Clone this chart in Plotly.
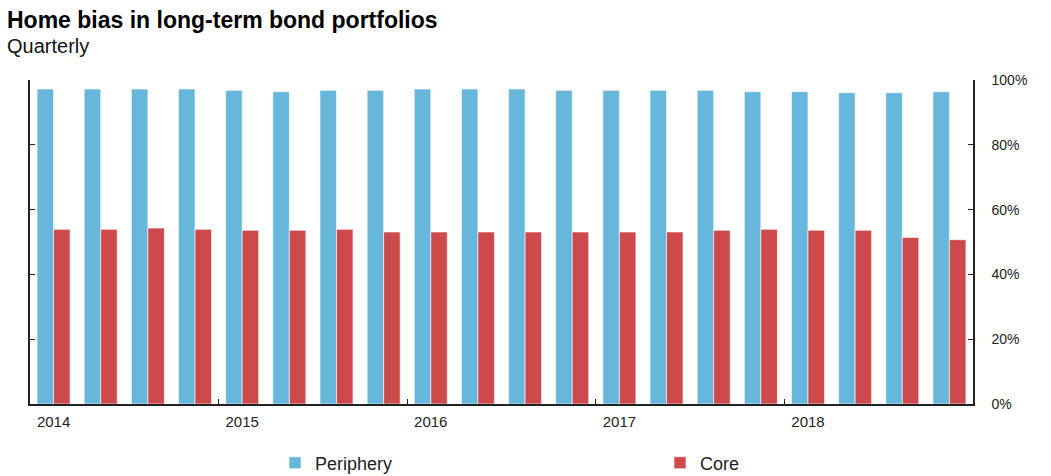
import plotly.graph_objects as go

quarters = ["2014Q1", "2014Q2", "2014Q3", "2014Q4",
            "2015Q1", "2015Q2", "2015Q3", "2015Q4",
            "2016Q1", "2016Q2", "2016Q3", "2016Q4",
            "2017Q1", "2017Q2", "2017Q3", "2017Q4",
            "2018Q1", "2018Q2", "2018Q3", "2018Q4"]
periphery = [97.2, 97.2, 97.2, 97.2, 96.8, 96.4, 96.8, 96.8, 97.2, 97.2,
             97.2, 96.8, 96.8, 96.8, 96.8, 96.4, 96.4, 96.1, 96.1, 96.4]
core = [53.9, 53.9, 54.3, 53.9, 53.6, 53.6, 53.9, 53.1, 53.1, 53.1,
        53.1, 53.1, 53.1, 53.1, 53.6, 53.9, 53.6, 53.6, 51.4, 50.7]
year_labels = ["2014", "2015", "2016", "2017", "2018"]
y_ticks = [0, 20, 40, 60, 80, 100]

x_idx = list(range(len(quarters)))
year_pos = [i for i, q in enumerate(quarters) if q.endswith("Q1")]
year_bounds = [i - 0.5 for i in year_pos[1:]]

BLUE = "#67B7DC"
RED = "#CC4A4C"
FONT = "Liberation Sans, Arial, sans-serif"
AX = "#222222"

W, H = 1051, 476
L, R, T, B = 30, 78, 80, 72
PW, PH = W - L - R, H - T - B


def px_x(p):
    return (p - L) / PW


def px_y(p):
    return (H - B - p) / PH


fig = go.Figure()
fig.add_trace(go.Bar(x=x_idx, y=periphery, name="Periphery", marker_color=BLUE,
                     marker_line=dict(color="rgba(255,255,255,0.6)", width=1),
                     legend="legend",
                     customdata=quarters, hovertemplate="%{customdata}: %{y}%<extra>Periphery</extra>"))
fig.add_trace(go.Bar(x=x_idx, y=core, name="Core", marker_color=RED,
                     marker_line=dict(color="rgba(255,255,255,0.6)", width=1),
                     legend="legend2",
                     customdata=quarters, hovertemplate="%{customdata}: %{y}%<extra>Core</extra>"))
fig.add_trace(go.Scatter(x=[None], y=[None], yaxis="y2", showlegend=False, hoverinfo="skip"))

leg_common = dict(orientation="h", yanchor="middle", y=px_y(463), xanchor="left",
                  font=dict(size=18, color="#222222", family=FONT),
                  bgcolor="rgba(0,0,0,0)")

fig.update_layout(
    width=W, height=H,
    margin=dict(l=L, r=R, t=T, b=B, autoexpand=False),
    paper_bgcolor="white", plot_bgcolor="white",
    barmode="group", bargap=0.3, bargroupgap=0,
    font=dict(family=FONT, color=AX),
    annotations=[
        dict(text="<b>Home bias in long-term bond portfolios</b>", xref="paper", yref="paper",
             x=px_x(5), y=px_y(20), xanchor="left", yanchor="middle", showarrow=False,
             font=dict(size=23, color="#000000", family=FONT)),
        dict(text="Quarterly", xref="paper", yref="paper",
             x=px_x(5), y=px_y(46), xanchor="left", yanchor="middle",
             showarrow=False, font=dict(size=20, color="#111111", family=FONT)),
    ],
    showlegend=True,
    legend=dict(x=px_x(275), **leg_common),
    legend2=dict(x=px_x(660), **leg_common),
    xaxis=dict(range=[-0.5, len(quarters) - 0.5], tickmode="array",
               tickvals=year_pos, ticktext=year_labels, ticks="",
               showline=True, linecolor=AX, linewidth=1.5, showgrid=False,
               zeroline=False, tickfont=dict(size=15, color=AX),
               ticklabelstandoff=3, automargin=False,
               minor=dict(tickmode="array", tickvals=year_bounds, ticks="inside",
                          ticklen=5, tickcolor=AX, tickwidth=1, showgrid=False)),
    yaxis=dict(range=[0, 100], tickmode="array", tickvals=y_ticks,
               showticklabels=False, ticks="inside", ticklen=5, tickcolor=AX,
               showline=True, linecolor=AX, linewidth=1.5, showgrid=False,
               zeroline=False, side="left", automargin=False),
    yaxis2=dict(range=[0, 100], tickmode="array", tickvals=y_ticks,
                ticktext=[f"{v}%" for v in y_ticks], ticks="inside", ticklen=5, tickcolor=AX,
                showline=True, linecolor=AX, linewidth=1.5, showgrid=False,
                zeroline=False, side="right", overlaying="y",
                tickfont=dict(size=14, color=AX), ticklabelstandoff=14, automargin=False),
)

fig.write_html("out.html", config={"displayModeBar": False},
               post_script="document.body.style.margin='0';document.body.style.overflow='hidden';")
